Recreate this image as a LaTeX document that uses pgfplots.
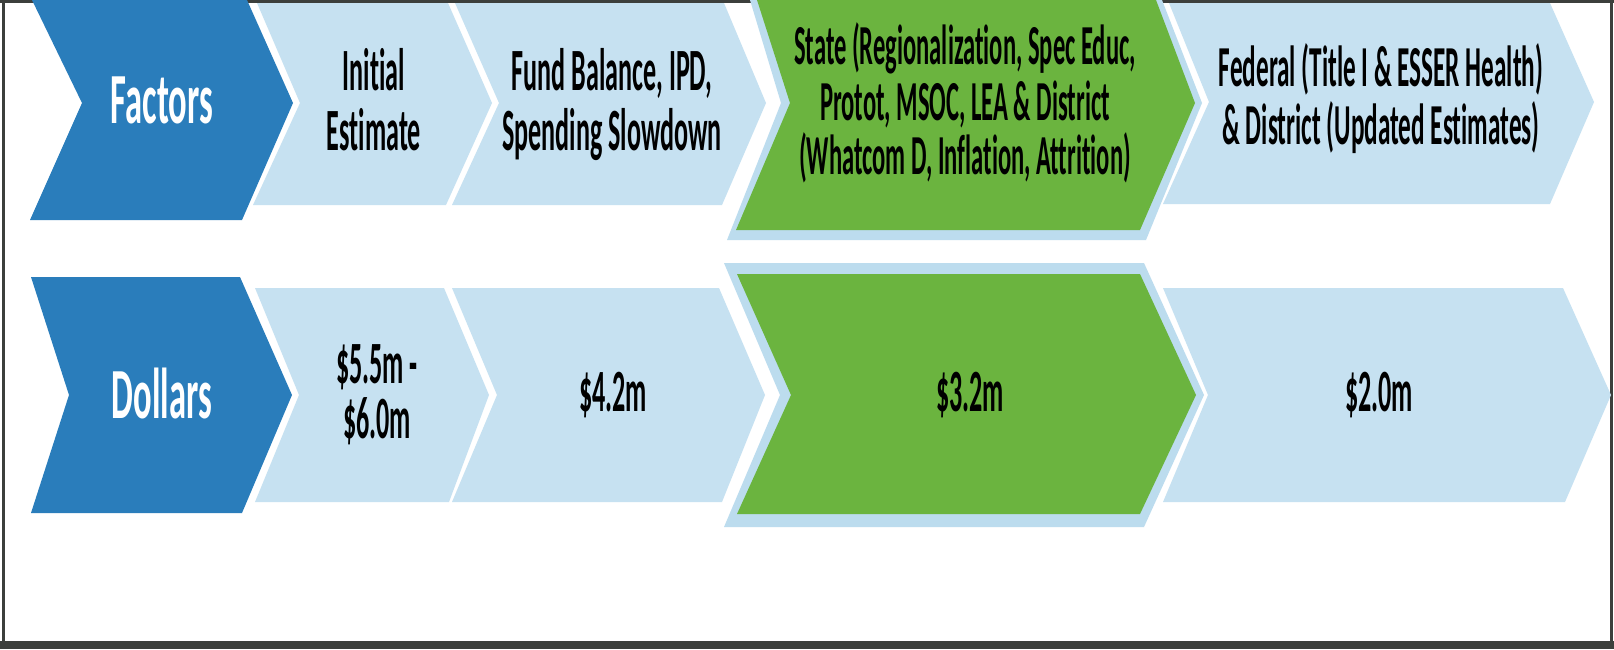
\documentclass[border=0pt]{standalone}
\usepackage{fontspec}
\setmainfont{Carlito}[FakeStretch=0.435, Ligatures=NoCommon]
\newfontfamily\headfont{Carlito}[FakeStretch=0.48, Ligatures=NoCommon]
\usepackage{pgfplots}
\pgfplotsset{compat=1.18}
\definecolor{dblue}{HTML}{2A7DBB}
\definecolor{lblue}{HTML}{C6E1F1}
\definecolor{gborder}{HTML}{BCDCEE}
\definecolor{green1}{HTML}{6BB43F}
\definecolor{frame}{HTML}{3C3F3C}
\begin{document}
\begin{tikzpicture}
\begin{axis}[scale only axis, width=1614pt, height=649pt,
  xmin=0, xmax=1614, ymin=0, ymax=649, y dir=reverse, hide axis, clip=true]
% background and frame
\addplot[fill=white, draw=none] coordinates {(0,0) (1614,0) (1614,649) (0,649)} -- cycle;
\addplot[fill=frame, draw=none] coordinates {(0,0) (1614,0) (1614,3) (0,3)} -- cycle;
\addplot[fill=frame, draw=none] coordinates {(0,641) (1614,641) (1614,649) (0,649)} -- cycle;
\addplot[fill=frame, draw=none] coordinates {(2,0) (5,0) (5,641) (2,641)} -- cycle;
\addplot[fill=frame, draw=none] coordinates {(1610,0) (1613,0) (1613,641) (1610,641)} -- cycle;
% row 1
\addplot[fill=dblue, draw=none] coordinates {(32,0) (247,0) (293,103) (242,220) (30,220) (82,103)} -- cycle;
\addplot[fill=lblue, draw=none] coordinates {(257,3) (448,3) (492,103) (446,205) (253,205) (300,103)} -- cycle;
\addplot[fill=lblue, draw=none] coordinates {(455,3) (724,3) (766,103) (722,205) (452,205) (499,103)} -- cycle;
\addplot[fill=gborder, draw=none] coordinates {(750,0) (1162,0) (1202,103) (1146,240) (727,240) (781,103)} -- cycle;
\addplot[fill=green1, draw=none] coordinates {(757,0) (1156,0) (1195,103) (1140,230) (736,230) (790,103)} -- cycle;
\addplot[fill=lblue, draw=none] coordinates {(1169,3) (1550,3) (1594,102) (1550,204) (1163,204) (1209,102)} -- cycle;
% row 2
\addplot[fill=dblue, draw=none] coordinates {(31,277) (240,277) (292,395) (242,513) (31,513) (69,395)} -- cycle;
\addplot[fill=lblue, draw=none] coordinates {(255,288) (444,288) (489,395) (449,502) (255,502) (299,395)} -- cycle;
\addplot[fill=lblue, draw=none] coordinates {(452,288) (719,288) (765,395) (722,502) (452,502) (497,395)} -- cycle;
\addplot[fill=gborder, draw=none] coordinates {(724,263) (1144,263) (1204,395) (1144,527) (724,527) (780,395)} -- cycle;
\addplot[fill=green1, draw=none] coordinates {(737,274) (1140,274) (1196,395) (1140,514) (737,514) (791,395)} -- cycle;
\addplot[fill=lblue, draw=none] coordinates {(1163,288) (1563,288) (1611,395) (1565,502) (1163,502) (1208,395)} -- cycle;
% text
\begin{scope}[every node/.style={anchor=base, inner sep=0pt, font=\fontsize{60}{70}\selectfont\bfseries}]
\node[text=white, font=\headfont\fontsize{72}{84}\selectfont\bfseries] at (axis cs:162,123) {Factors};
\node[text=white, font=\headfont\fontsize{72}{84}\selectfont\bfseries] at (axis cs:162,418) {Dollars};
\node at (axis cs:374,90) {Initial};
\node at (axis cs:374,150) {Estimate};
\node at (axis cs:612,90) {Fund Balance, IPD,};
\node at (axis cs:612,150) {Spending Slowdown};
\begin{scope}[every node/.append style={font=\fontsize{56.5}{66}\selectfont\bfseries}]
\node at (axis cs:965,64) {State (Regionalization, Spec Educ,};
\node at (axis cs:965,120) {Protot, MSOC, LEA \& District};
\node at (axis cs:965,174) {(Whatcom D, Inflation, Attrition)};
\end{scope}
\begin{scope}[every node/.append style={font=\fontsize{58}{68}\selectfont\bfseries}]
\node at (axis cs:1381,86) {Federal (Title I \& ESSER Health)};
\node at (axis cs:1381,144) {\& District (Updated Estimates)};
\end{scope}
\node at (axis cs:377,383) {\$5.5m -};
\node at (axis cs:377,438) {\$6.0m};
\node at (axis cs:613,411) {\$4.2m};
\node at (axis cs:970,411) {\$3.2m};
\node at (axis cs:1379,411) {\$2.0m};
\end{scope}
\end{axis}
\end{tikzpicture}
\end{document}
